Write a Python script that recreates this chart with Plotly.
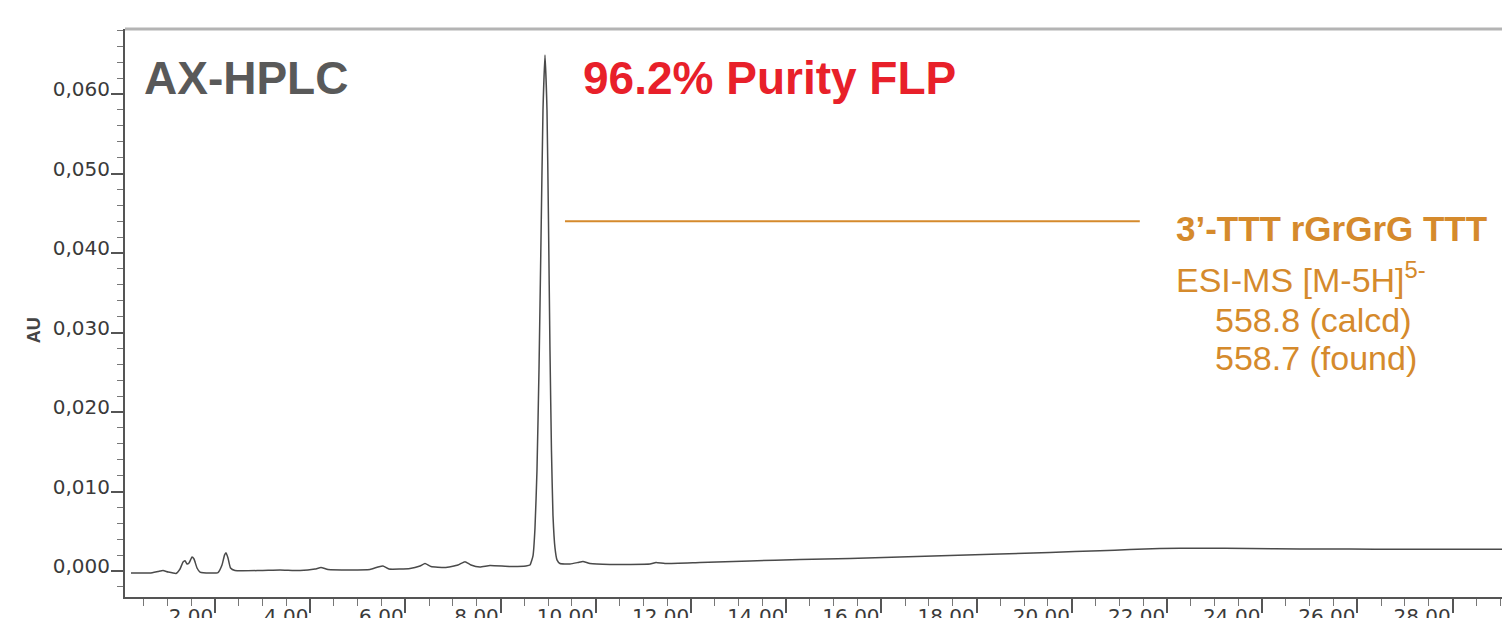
import plotly.graph_objects as go

# Chromatogram trace: retention time (min) and absorbance (AU)
time_min = [
    0.235, 0.634, 0.803, 0.908, 1.013, 1.181, 1.265, 1.328, 1.370, 1.412,
    1.454, 1.517, 1.559, 1.622, 1.685, 1.895, 2.063, 2.147, 2.200, 2.231,
    2.273, 2.326, 2.420, 2.945, 3.366, 3.786, 4.101, 4.227, 4.374, 4.836,
    5.256, 5.424, 5.529, 5.655, 6.097, 6.307, 6.412, 6.538, 6.832, 7.105,
    7.252, 7.378, 7.567, 7.777, 8.197, 8.534, 8.618, 8.681, 8.723, 8.765,
    8.807, 8.849, 8.891, 8.933, 8.975, 9.006, 9.038, 9.069, 9.101, 9.143,
    9.185, 9.248, 9.458, 9.626, 9.731, 9.878, 10.298, 11.139, 11.265, 11.454,
    12.189, 13.239, 14.290, 15.340, 16.390, 17.440, 18.490, 19.540, 20.590, 21.220,
    21.850, 22.690, 23.740, 24.790, 25.840, 26.890, 27.940, 29.040,
]
absorbance_au = [
    -0.00025, -0.00025, -0.00006, 0.00006, -0.00013, -0.00031, 0.00025, 0.00113, 0.00130, 0.00088,
    0.00100, 0.00176, 0.00151, 0.00038, -0.00013, -0.00025, -0.00019, 0.00075, 0.00200, 0.00230,
    0.00164, 0.00038, 0.00006, 0.00006, 0.00013, 0.00006, 0.00025, 0.00044, 0.00019, 0.00013,
    0.00019, 0.00050, 0.00063, 0.00025, 0.00031, 0.00063, 0.00094, 0.00057, 0.00044, 0.00075,
    0.00117, 0.00075, 0.00050, 0.00069, 0.00057, 0.00063, 0.00075, 0.00190, 0.00540, 0.01270,
    0.02530, 0.04160, 0.05800, 0.06490, 0.05800, 0.04420, 0.02780, 0.01520, 0.00700, 0.00290,
    0.00140, 0.00094, 0.00088, 0.00107, 0.00120, 0.00094, 0.00082, 0.00088, 0.00107, 0.00094,
    0.00107, 0.00126, 0.00145, 0.00157, 0.00176, 0.00195, 0.00214, 0.00233, 0.00255, 0.00270,
    0.00283, 0.00286, 0.00283, 0.00277, 0.00277, 0.00273, 0.00273, 0.00273,
]

# Axis windows
x_range = [0.109, 29.04]
y_range = [-0.00327, 0.06818]

# Leader line from the main peak to its label (time, AU)
fl_line_x = [9.353, 21.43]
fl_line_y = 0.0440

AXIS_GREY = "#555555"
TEXT_GREY = "#595959"
RED = "#e8202a"
ORANGE = "#d58a2c"

fig = go.Figure()
fig.add_trace(go.Scatter(
    x=time_min, y=absorbance_au, mode="lines",
    line=dict(color="#4a4a4a", width=1.5, shape="spline", smoothing=0.4),
    hoverinfo="skip",
))

fig.add_trace(go.Scatter(
    x=fl_line_x, y=[fl_line_y, fl_line_y], mode="lines",
    line=dict(color=ORANGE, width=2), hoverinfo="skip",
))

tick_font = dict(family="DejaVu Sans", size=20, color="#3a3a3a")

fig.update_layout(
    width=1502, height=618,
    margin=dict(l=125, r=0, t=29, b=21),
    paper_bgcolor="white", plot_bgcolor="white",
    showlegend=False,
    separators=", ",
)

fig.update_xaxes(
    range=x_range, tick0=0, dtick=2, tickformat=".2f",
    ticks="outside", ticklen=14, tickwidth=1.5, tickcolor=AXIS_GREY,
    showline=True, linecolor=AXIS_GREY, linewidth=2,
    showgrid=False, zeroline=False, automargin=False,
    ticklabelposition="outside left", tickfont=tick_font,
    minor=dict(tick0=0, dtick=0.5, ticks="outside", ticklen=7,
               tickwidth=1.2, tickcolor="#777777"),
)
fig.update_yaxes(
    range=y_range, tick0=0, dtick=0.01, tickformat=".3f",
    ticks="outside", ticklen=12, tickwidth=1.5, tickcolor=AXIS_GREY,
    showline=True, linecolor=AXIS_GREY, linewidth=2,
    showgrid=False, zeroline=False, automargin=False,
    ticklabelshift=-5, ticklabelstandoff=-3, tickfont=tick_font,
    minor=dict(tick0=0, dtick=0.002, ticks="outside", ticklen=6,
               tickwidth=1.2, tickcolor="#777777"),
)

# Axis title drawn as rotated text left of the tick labels
fig.add_annotation(x=(34 - 125) / 1377, y=0.0303, xref="paper", yref="y", text="<b>AU</b>",
                   showarrow=False, textangle=-90, xanchor="center", yanchor="middle",
                   font=dict(family="Liberation Sans", size=18, color="#444444"))

# Light frame line along the top of the plot
fig.add_shape(type="line", xref="paper", yref="paper", x0=0, x1=1, y0=1, y1=1,
              line=dict(color="#b4b4b4", width=3))

fig.add_annotation(x=0.47, y=0.0620, xref="x", yref="y", text="<b>AX-HPLC</b>",
                   showarrow=False, xanchor="left", yanchor="middle",
                   font=dict(family="Liberation Sans", size=46, color=TEXT_GREY))
fig.add_annotation(x=9.68, y=0.0620, xref="x", yref="y", text="<b>96.2% Purity FLP</b>",
                   showarrow=False, xanchor="left", yanchor="middle",
                   font=dict(family="Liberation Sans", size=46, color=RED))

label_font_bold = dict(family="Liberation Sans", size=35, color=ORANGE)
label_font = dict(family="Liberation Sans", size=34, color=ORANGE)
fig.add_annotation(x=22.14, y=0.0431, xref="x", yref="y",
                   text="<b>3\u2019-TTT rGrGrG TTT</b>",
                   showarrow=False, xanchor="left", yanchor="middle", font=label_font_bold)
fig.add_annotation(x=22.14, y=0.0369, xref="x", yref="y",
                   text="ESI-MS [M-5H]<sup>5-</sup>",
                   showarrow=False, xanchor="left", yanchor="middle", font=label_font)
fig.add_annotation(x=22.96, y=0.0316, xref="x", yref="y",
                   text="558.8 (calcd)",
                   showarrow=False, xanchor="left", yanchor="middle", font=label_font)
fig.add_annotation(x=22.96, y=0.0268, xref="x", yref="y",
                   text="558.7 (found)",
                   showarrow=False, xanchor="left", yanchor="middle", font=label_font)

fig.write_html("out.html")
